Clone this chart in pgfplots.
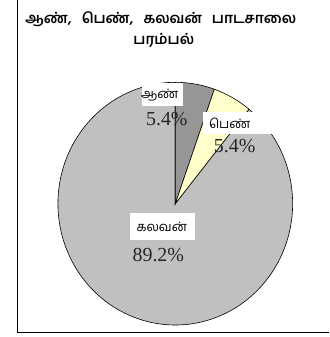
\documentclass[border=0pt]{standalone}
\usepackage{pgfplots}
\pgfplotsset{compat=1.18}
\usepackage{pgfplotstable}
\usepackage{fontspec}
\setmainfont{Liberation Serif}
\newfontfamily\tamil[Script=Tamil]{Hind Madurai}
\definecolor{sliceA}{HTML}{969696}
\definecolor{sliceB}{HTML}{FFFFCC}
\definecolor{sliceC}{HTML}{C0C0C0}
\pgfplotstableread{
name value
Aan 5.4
Pen 5.4
Kalavan 89.2
}\piedata
\begin{document}
\begin{tikzpicture}
\pgfplotstablegetelem{0}{value}\of\piedata \let\va\pgfplotsretval
\pgfplotstablegetelem{1}{value}\of\piedata \let\vb\pgfplotsretval
\pgfplotstablegetelem{2}{value}\of\piedata \let\vc\pgfplotsretval
\pgfmathsetmacro{\aA}{90}
\pgfmathsetmacro{\aB}{90-3.6*\va}
\pgfmathsetmacro{\aC}{\aB-3.6*\vb}
\pgfmathsetmacro{\aD}{\aC-3.6*\vc}
\def\cx{175.5}\def\cy{133.5}\def\rx{117.5}\def\ry{121.5}
\begin{axis}[scale only axis, width=329bp, height=337bp,
  xmin=0, xmax=329, ymin=0, ymax=337, hide axis, clip=false]
\path (axis cs:0,0) rectangle (axis cs:329,337);
\addplot[fill=sliceC, draw=black, line width=0.6pt, domain=\aD:\aC, samples=180, variable=\t]
  ({\cx+\rx*cos(\t)},{\cy+\ry*sin(\t)}) -- (axis cs:\cx,\cy) -- cycle;
\addplot[fill=sliceA, draw=black, line width=0.6pt, domain=\aB:\aA, samples=20, variable=\t]
  ({\cx+\rx*cos(\t)},{\cy+\ry*sin(\t)}) -- (axis cs:\cx,\cy) -- cycle;
\addplot[fill=sliceB, draw=black, line width=0.6pt, domain=\aC:\aB, samples=20, variable=\t]
  ({\cx+\rx*cos(\t)},{\cy+\ry*sin(\t)}) -- (axis cs:\cx,\cy) -- cycle;
% frame
\draw[black, line width=0.8pt] (axis cs:17.5,337) -- (axis cs:17.5,5) -- (axis cs:329,5);
% title
\node[font=\tamil\bfseries\fontsize{14.5}{16}\selectfont, inner sep=0] at (axis cs:161,318) {ஆண்,\hspace{10bp}பெண்,\hspace{10bp}கலவன்\hspace{10bp}பாடசாலை};
\node[font=\tamil\bfseries\fontsize{14.5}{16}\selectfont, inner sep=0] at (axis cs:164,297) {பரம்பல்};
% labels
\fill[white] (axis cs:142,231) rectangle (axis cs:183,254);
\node[font=\tamil\fontsize{13}{14}\selectfont, inner sep=0] at (axis cs:160,242) {ஆண்};
\node[font=\fontsize{20}{20}\selectfont, text=black!85, inner sep=0] at (axis cs:167,218) {5.4\%};
\fill[white] (axis cs:203,203) rectangle (axis cs:272,225);
\node[font=\tamil\fontsize{13}{14}\selectfont, inner sep=0] at (axis cs:230,214) {பெண்};
\node[font=\fontsize{20}{20}\selectfont, text=black!85, inner sep=0] at (axis cs:235,191) {5.4\%};
\fill[white] (axis cs:130,97) rectangle (axis cs:195,124);
\node[font=\tamil\fontsize{13}{14}\selectfont, inner sep=0] at (axis cs:162,110) {கலவன்};
\node[font=\fontsize{20}{20}\selectfont, text=black!85, inner sep=0] at (axis cs:158.5,82) {89.2\%};
\end{axis}
\end{tikzpicture}
\end{document}
